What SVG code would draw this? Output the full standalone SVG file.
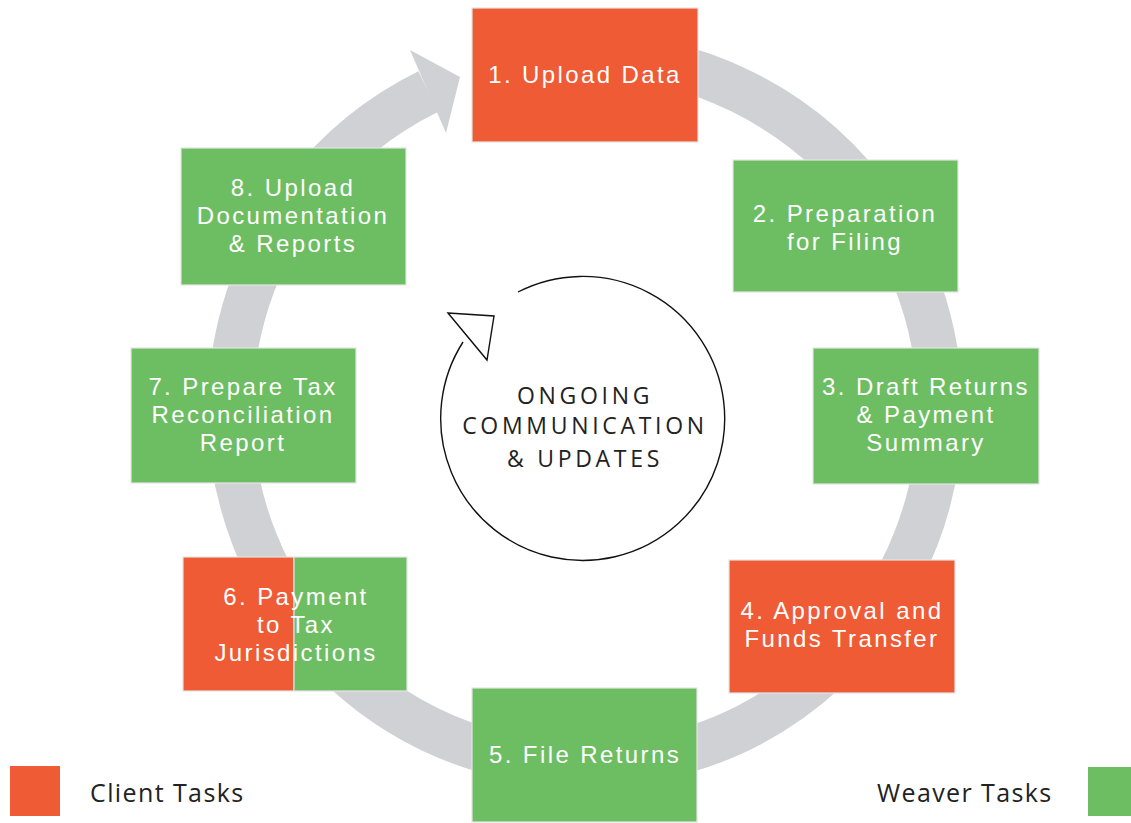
<svg xmlns="http://www.w3.org/2000/svg" width="1131" height="823" viewBox="0 0 1131 823">
<style>
.ring{fill:none;stroke:#D0D1D5;stroke-width:45}
.head{fill:#D0D1D5}
.orange{fill:#EF5B35}
.green{fill:#6DBD63}
.box{stroke:#E4E4E4;stroke-width:1.2}
.bt{font-family:"Liberation Sans",Arial,sans-serif;font-size:24px;fill:#FFFFFF;text-anchor:middle;letter-spacing:2.4px}
.ct{font-family:"Open Sans","Liberation Sans",sans-serif;font-size:23px;fill:#222222;text-anchor:middle;letter-spacing:3.7px}
.lt{font-family:"Open Sans","Liberation Sans",sans-serif;font-size:25px;fill:#222222;letter-spacing:1.4px}
.thin{fill:none;stroke:#111111;stroke-width:1.4}
</style>
<rect width="1131" height="823" fill="#FFFFFF"/>
<g id="connectors">
<path class="ring" d="M 585 55 A 355 355 0 1 1 428.3 91.5"/>
<polygon class="head" points="410,50 460,77 446,133"/>
</g>
<g id="center">
<path class="thin" d="M 518 292 A 142 142 0 1 1 463 342"/>
<polygon class="thin" fill="#FFFFFF" points="448,313 494,316 487,360"/>
<text class="ct" x="585" y="404">ONGOING</text>
<text class="ct" x="585" y="434">COMMUNICATION</text>
<text class="ct" x="585" y="467">&amp; UPDATES</text>
</g>
<g id="node1">
<rect class="orange box" x="472" y="8" width="226" height="134"/>
<text class="bt" x="585" y="83">1. Upload Data</text>
</g>
<g id="node2">
<rect class="green box" x="733" y="160" width="225" height="132"/>
<text class="bt" x="845" y="222">2. Preparation</text>
<text class="bt" x="845" y="250">for Filing</text>
</g>
<g id="node3">
<rect class="green box" x="813" y="348" width="226" height="136"/>
<text class="bt" x="926" y="395">3. Draft Returns</text>
<text class="bt" x="926" y="423">&amp; Payment</text>
<text class="bt" x="926" y="451">Summary</text>
</g>
<g id="node4">
<rect class="orange box" x="729" y="560" width="226" height="133"/>
<text class="bt" x="842" y="619">4. Approval and</text>
<text class="bt" x="842" y="647">Funds Transfer</text>
</g>
<g id="node5">
<rect class="green box" x="472" y="688" width="225" height="134"/>
<text class="bt" x="585" y="763">5. File Returns</text>
</g>
<g id="node6">
<rect class="orange box" x="183" y="557" width="111" height="134"/>
<rect class="green box" x="294" y="557" width="113" height="134"/>
<text class="bt" x="296" y="605">6. Payment</text>
<text class="bt" x="296" y="633">to Tax</text>
<text class="bt" x="296" y="661">Jurisdictions</text>
</g>
<g id="node7">
<rect class="green box" x="131" y="348" width="225" height="135"/>
<text class="bt" x="243" y="395">7. Prepare Tax</text>
<text class="bt" x="243" y="423">Reconciliation</text>
<text class="bt" x="243" y="451">Report</text>
</g>
<g id="node8">
<rect class="green box" x="181" y="148" width="225" height="137"/>
<text class="bt" x="293" y="196">8. Upload</text>
<text class="bt" x="293" y="224">Documentation</text>
<text class="bt" x="293" y="252">&amp; Reports</text>
</g>
<g id="legend">
<rect class="orange" x="10" y="766" width="50" height="50"/>
<text class="lt" x="90" y="802">Client Tasks</text>
<text class="lt" x="877" y="802">Weaver Tasks</text>
<rect class="green" x="1088" y="767" width="43" height="49"/>
</g>
</svg>
